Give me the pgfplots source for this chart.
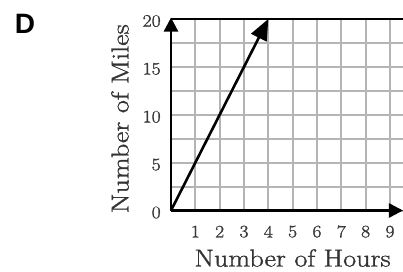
\documentclass[border=0pt]{standalone}
\usepackage{fontspec}
\usepackage{pgfplots}
\pgfplotsset{compat=1.18}
\usetikzlibrary{arrows.meta}
\newfontfamily\labelfont{Liberation Sans}
\newfontfamily\lmb{Latin Modern Roman}[FakeBold=1.3, FakeStretch=1.15]
\newfontfamily\lmt{Latin Modern Roman}[FakeBold=1.5, FakeStretch=1.12]
\definecolor{gridgray}{RGB}{180,180,180}
\begin{document}
\begin{tikzpicture}[x=1pt,y=1pt]
\useasboundingbox (0,0) rectangle (403,271);
\node[font=\labelfont\bfseries\fontsize{28}{28}\selectfont] at (25,247) {D};
\begin{axis}[
  at={(171pt,60.5pt)}, anchor=origin,
  x=24.33pt, y=9.575pt,
  xmin=0, xmax=9.535, ymin=0, ymax=20.15,
  axis lines=left,
  axis line style={line width=2.6pt, -{Triangle[length=14pt,width=14pt]}},
  clip=false,
  xtick={1,...,9}, ytick={0,5,10,15,20},
  minor ytick={2.5,7.5,12.5,17.5},
  grid=both,
  major grid style={gridgray, line width=2pt},
  minor grid style={gridgray, line width=2pt},
  tick style={draw=none},
  /pgf/number format/assume math mode=true,
  tick label style={font=\lmt\fontsize{17.5}{17.5}\selectfont, text=black!78},
  xticklabel style={anchor=center, yshift=-19pt},
  yticklabel style={anchor=east, inner sep=0pt, xshift=-8pt, yshift=-2pt},
  xlabel={Number of Hours},
  ylabel={Number of Miles},
  every axis x label/.style={at={(rel axis cs:0.524,0)}, yshift=-47.5pt, anchor=center, font=\lmb\fontsize{24.5}{27}\selectfont, text=black!80},
  every axis y label/.style={at={(rel axis cs:0,0.476)}, xshift=-51pt, anchor=center, rotate=90, font=\lmb\fontsize{24.5}{27}\selectfont, text=black!80},
]
\addplot[line width=2.6pt] coordinates {(0,20) (9.535,20)};
\addplot[line width=2.6pt, -{Triangle[length=21pt,width=17pt]}] coordinates {(0,0) (4,20)};
\end{axis}
\end{tikzpicture}
\end{document}
